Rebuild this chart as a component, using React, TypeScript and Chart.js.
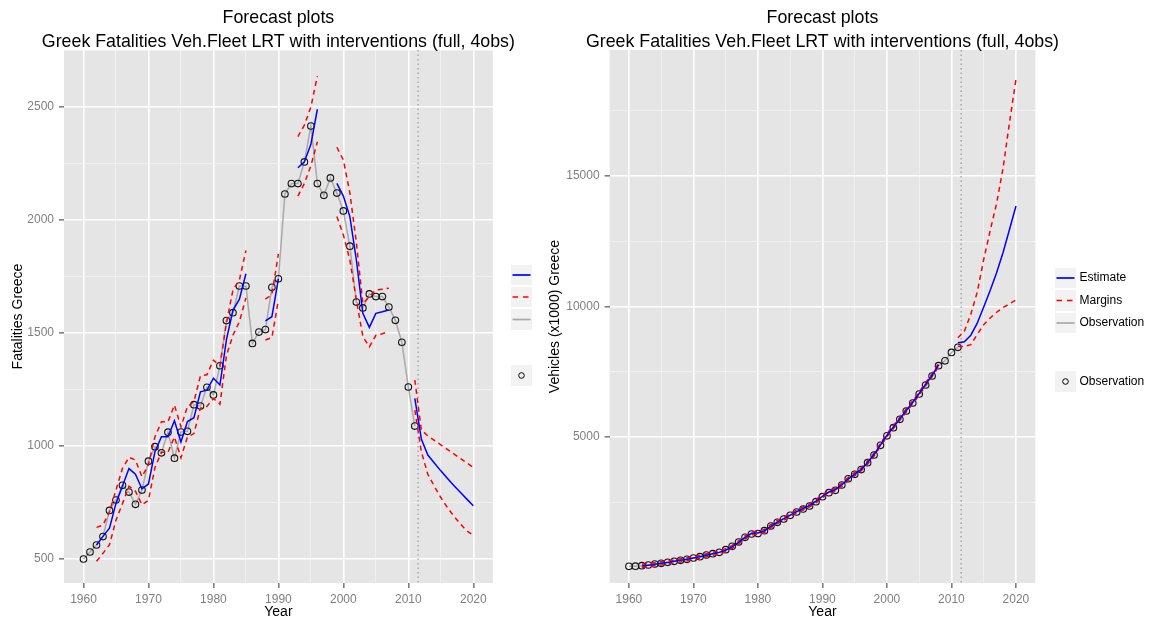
import React, { useEffect, useRef } from "react";
import { Chart, registerables } from "chart.js";

Chart.register(...registerables);

const FONT = '"Liberation Sans", Arial, Helvetica, sans-serif';

const YEARS = [
  1960, 1961, 1962, 1963, 1964, 1965, 1966, 1967, 1968, 1969,
  1970, 1971, 1972, 1973, 1974, 1975, 1976, 1977, 1978, 1979,
  1980, 1981, 1982, 1983, 1984, 1985, 1986, 1987, 1988, 1989,
  1990, 1991, 1992, 1993, 1994, 1995, 1996, 1997, 1998, 1999,
  2000, 2001, 2002, 2003, 2004, 2005, 2006, 2007, 2008, 2009,
  2010, 2011, 2012, 2013, 2014, 2015, 2016, 2017, 2018, 2019, 2020,
];
const OBS_YEARS = YEARS.slice(0, 52);

const X_TICKS = [1960, 1965, 1970, 1975, 1980, 1985, 1990, 1995, 2000, 2005, 2010, 2015, 2020];
const X_MAJOR = [1960, 1970, 1980, 1990, 2000, 2010, 2020];
const INTERVENTION_LINE = 2011.5;

// Left panel: fatalities
const FAT_OBS = [
  500, 531, 562, 599, 715, 761, 826, 796, 742, 805,
  933, 997, 970, 1061, 946, 1062, 1065, 1183, 1177, 1260,
  1226, 1355, 1555, 1590, 1708, 1708, 1454, 1504, 1515, 1702,
  1740, 2115, 2161, 2161, 2257, 2416, 2161, 2109, 2186, 2119,
  2040, 1884, 1637, 1611, 1673, 1661, 1661, 1615, 1556, 1459,
  1261, 1088,
];
const FAT_EST = [
  null, null, 562, 600, 636, 746, 823, 900, 875, 810,
  832, 975, 1041, 1041, 1112, 1018, 1108, 1125, 1240, 1247,
  1300, 1270, 1470, 1600, 1650, 1762, null, null, 1554, 1572,
  1740, null, null, 2231, 2257, 2335, 2490, null, null, 2162,
  2106, 2015, 1823, 1587, 1525, 1587, 1594, 1602, null, null,
  null, 1211, 1031, 960, 925, 890, 857, 825, 795, 765, 736,
];
const FAT_UP = [
  null, null, 640, 650, 709, 805, 901, 950, 938, 864,
  917, 1041, 1107, 1107, 1181, 1085, 1174, 1196, 1310, 1315,
  1380, 1355, 1545, 1690, 1735, 1865, null, null, 1650, 1670,
  1850, null, null, 2369, 2420, 2500, 2637, null, null, 2322,
  2265, 2120, 1900, 1630, 1661, 1690, 1694, 1698, null, null,
  null, 1292, 1071, 1045, 1025, 1005, 985, 965, 945, 925, 905,
];
const FAT_LO = [
  null, null, 490, 525, 563, 672, 745, 822, 800, 740,
  760, 905, 972, 972, 1040, 948, 1040, 1055, 1168, 1175,
  1210, 1185, 1400, 1490, 1550, 1655, null, null, 1469, 1480,
  1646, null, null, 2106, 2162, 2240, 2346, null, null, 2015,
  1934, 1823, 1646, 1484, 1439, 1490, 1497, 1506, null, null,
  null, 1159, 975, 875, 822, 772, 728, 690, 655, 625, 605,
];
const FAT_Y_TICKS = [500, 750, 1000, 1250, 1500, 1750, 2000, 2250, 2500, 2750];
const FAT_Y_MAJOR = [500, 1000, 1500, 2000, 2500];

// Right panel: vehicle fleet
const VEH_OBS = [
  46, 50, 69, 96, 134, 161, 199, 237, 276, 314,
  364, 414, 479, 529, 582, 682, 812, 977, 1157, 1284,
  1300, 1410, 1590, 1732, 1858, 2000, 2126, 2241, 2356, 2522,
  2714, 2867, 2957, 3161, 3400, 3570, 3750, 4015, 4310, 4680,
  5045, 5356, 5678, 5996, 6303, 6648, 6992, 7337, 7732, 7920,
  8240, 8437,
];
const VEH_EST = [
  null, null, 60, 90, 125, 160, 195, 235, 275, 315,
  360, 410, 470, 525, 580, 660, 790, 960, 1150, 1310,
  1330, 1400, 1580, 1740, 1870, 2010, 2140, 2260, 2380, 2540,
  2730, 2900, 2990, 3170, 3390, 3580, 3760, 4020, 4330, 4700,
  5070, 5380, 5700, 6020, 6330, 6670, 7020, 7370, 7760, null,
  null, 8610, 8650, 8900, 9360, 9980, 10610, 11290, 12070, 12950, 13850,
];
const VEH_UP = [
  null, null, 120, 150, 185, 220, 255, 295, 335, 375,
  420, 470, 530, 585, 640, 720, 850, 1020, 1210, 1370,
  1390, 1460, 1640, 1800, 1930, 2070, 2200, 2320, 2440, 2600,
  2790, 2960, 3050, 3230, 3450, 3640, 3820, 4080, 4390, 4760,
  5130, 5440, 5760, 6080, 6390, 6730, 7080, 7430, 7820, null,
  null, 8800, 9050, 9700, 10550, 11800, 12900, 13950, 15300, 17050, 18700,
];
const VEH_LO = [
  null, null, 0, 30, 65, 100, 135, 175, 215, 255,
  300, 350, 410, 465, 520, 600, 730, 900, 1090, 1250,
  1270, 1340, 1520, 1680, 1810, 1950, 2080, 2200, 2320, 2480,
  2670, 2840, 2930, 3110, 3330, 3520, 3700, 3960, 4270, 4640,
  5010, 5320, 5640, 5960, 6270, 6610, 6960, 7310, 7700, null,
  null, 8480, 8470, 8540, 8930, 9300, 9560, 9780, 9960, 10100, 10250,
];
const VEH_Y_TICKS = [2500, 5000, 7500, 10000, 12500, 15000, 17500];
const VEH_Y_MAJOR = [5000, 10000, 15000];

const TITLE_1 = "Forecast plots";
const TITLE_2 = "Greek Fatalities Veh.Fleet LRT with interventions (full, 4obs)";
const X_TITLE = "Year";
const LEFT_Y_TITLE = "Fatalities Greece";
const RIGHT_Y_TITLE = "Vehicles (x1000) Greece";
const LEFT_LEGEND = ["", "", "", ""];
const RIGHT_LEGEND = ["Estimate", "Margins", "Observation", "Observation"];

const BLUE = "#0000ff";
const RED = "#ff0000";
const GREY_LINE = "#a9a9a9";
const DASH = [5, 4];

type PanelCfg = {
  width: number;
  yMin: number;
  yMax: number;
  yTicks: number[];
  yMajor: number[];
  yAxisWidth: number;
  rightPad: number;
  obs: number[];
  est: (number | null)[];
  up: (number | null)[];
  lo: (number | null)[];
  yTitle: string;
  yTitleX: number;
  legend: string[];
  legendX: number;
  legendRows: number[][];
};

const pts = (xs: number[], ys: (number | null)[]) => xs.map((x, i) => ({ x, y: ys[i] }));

function makeChart(canvas: HTMLCanvasElement, cfg: PanelCfg) {
  const decorations = {
    id: "ggDecor",
    beforeDraw(chart: any) {
      const { ctx, chartArea: a } = chart;
      ctx.save();
      ctx.fillStyle = "#e5e5e5";
      ctx.fillRect(a.left, a.top, a.right - a.left, a.bottom - a.top);
      ctx.restore();
    },
    beforeDatasetsDraw(chart: any) {
      const { ctx, chartArea: a } = chart;
      const x = chart.scales.x.getPixelForValue(INTERVENTION_LINE);
      ctx.save();
      ctx.strokeStyle = "#9a9a9a";
      ctx.lineWidth = 1.2;
      ctx.setLineDash([1.5, 3]);
      ctx.beginPath();
      ctx.moveTo(x, a.top);
      ctx.lineTo(x, a.bottom);
      ctx.stroke();
      ctx.restore();
    },
    afterDraw(chart: any) {
      const { ctx, chartArea: a } = chart;
      const cx = (a.left + a.right) / 2;
      ctx.save();
      ctx.fillStyle = "#000";
      ctx.textAlign = "center";
      ctx.textBaseline = "middle";
      ctx.font = `17.8px ${FONT}`;
      ctx.fillText(TITLE_1, cx, 18.5);
      ctx.fillText(TITLE_2, cx, 42.5);
      ctx.font = `14px ${FONT}`;
      ctx.fillText(X_TITLE, cx, 612.5);
      ctx.save();
      ctx.translate(cfg.yTitleX, (a.top + a.bottom) / 2);
      ctx.rotate(-Math.PI / 2);
      ctx.fillText(cfg.yTitle, 0, 0);
      ctx.restore();

      // legend
      const bx = cfg.legendX;
      const bw = 21;
      const keys = [
        { color: BLUE, dash: [] as number[] },
        { color: RED, dash: [5.5, 5] },
        { color: GREY_LINE, dash: [] as number[] },
      ];
      cfg.legendRows.forEach((r, i) => {
        ctx.fillStyle = "#f2f2f2";
        ctx.fillRect(bx, r[0], bw, r[1] - r[0]);
        const my = (r[0] + r[1]) / 2;
        if (i < 3) {
          ctx.strokeStyle = keys[i].color;
          ctx.lineWidth = 1.7;
          ctx.setLineDash(keys[i].dash);
          ctx.beginPath();
          ctx.moveTo(bx + 1.5, my);
          ctx.lineTo(bx + bw - 1.5, my);
          ctx.stroke();
          ctx.setLineDash([]);
        } else {
          ctx.strokeStyle = "#000";
          ctx.lineWidth = 1;
          ctx.beginPath();
          ctx.arc(bx + bw / 2, my, 2.8, 0, Math.PI * 2);
          ctx.stroke();
        }
        const label = cfg.legend[i];
        if (label) {
          ctx.fillStyle = "#000";
          ctx.textAlign = "left";
          ctx.textBaseline = "middle";
          ctx.font = `12px ${FONT}`;
          ctx.fillText(label, bx + bw + 3.5, my);
        }
      });
      ctx.restore();
    },
  };

  const gridOpts = (major: number[]) => ({
    color: (c: any) => (c.tick && major.includes(c.tick.value) ? "#ffffff" : "#f2f2f2"),
    lineWidth: (c: any) => (c.tick && major.includes(c.tick.value) ? 1.6 : 0.8),
    tickColor: (c: any) => (c.tick && major.includes(c.tick.value) ? "#7f7f7f" : "rgba(0,0,0,0)"),
    tickLength: 5,
    drawOnChartArea: true,
    drawTicks: true,
  });

  return new Chart(canvas, {
    type: "line",
    data: {
      datasets: [
        {
          label: "Estimate",
          data: pts(YEARS, cfg.est),
          borderColor: BLUE,
          borderWidth: 1.5,
          pointRadius: 0,
          spanGaps: false,
          tension: 0,
          order: 0,
        },
        {
          label: "Upper",
          data: pts(YEARS, cfg.up),
          borderColor: RED,
          borderWidth: 1.5,
          borderDash: DASH,
          pointRadius: 0,
          spanGaps: false,
          tension: 0,
          order: 1,
        },
        {
          label: "Lower",
          data: pts(YEARS, cfg.lo),
          borderColor: RED,
          borderWidth: 1.5,
          borderDash: DASH,
          pointRadius: 0,
          spanGaps: false,
          tension: 0,
          order: 2,
        },
        {
          label: "Observation points",
          data: pts(OBS_YEARS, cfg.obs),
          showLine: false,
          pointRadius: 3.3,
          pointBorderWidth: 1.1,
          pointBorderColor: "#111",
          pointBackgroundColor: "rgba(0,0,0,0)",
          order: 3,
        },
        {
          label: "Observation",
          data: pts(OBS_YEARS, cfg.obs),
          borderColor: GREY_LINE,
          borderWidth: 1.5,
          pointRadius: 0,
          tension: 0,
          order: 4,
        },
      ],
    },
    options: {
      animation: false,
      responsive: false,
      maintainAspectRatio: false,
      devicePixelRatio: 1,
      layout: { padding: { top: 50, right: cfg.rightPad, left: 0, bottom: 0 } },
      plugins: {
        legend: { display: false },
        title: { display: false },
        tooltip: { enabled: false },
      },
      scales: {
        x: {
          type: "linear",
          min: 1957,
          max: 2023,
          afterBuildTicks: (s: any) => {
            s.ticks = X_TICKS.map((v) => ({ value: v }));
          },
          afterFit: (s: any) => {
            s.height = 44;
          },
          ticks: {
            autoSkip: false,
            maxRotation: 0,
            padding: 4,
            color: "#7f7f7f",
            font: { family: FONT, size: 12 },
            callback: (v: any) => (X_MAJOR.includes(Number(v)) ? String(v) : ""),
          },
          grid: gridOpts(X_MAJOR),
          border: { display: false },
        },
        y: {
          type: "linear",
          min: cfg.yMin,
          max: cfg.yMax,
          afterBuildTicks: (s: any) => {
            s.ticks = cfg.yTicks.map((v) => ({ value: v }));
          },
          afterFit: (s: any) => {
            s.width = cfg.yAxisWidth;
          },
          ticks: {
            autoSkip: false,
            padding: 5,
            color: "#7f7f7f",
            font: { family: FONT, size: 12 },
            callback: (v: any) => (cfg.yMajor.includes(Number(v)) ? String(v) : ""),
          },
          grid: gridOpts(cfg.yMajor),
          border: { display: false },
        },
      },
    },
    plugins: [decorations],
  } as any);
}

const LEFT_CFG: PanelCfg = {
  width: 540,
  yMin: 393.8,
  yMax: 2752.2,
  yTicks: FAT_Y_TICKS,
  yMajor: FAT_Y_MAJOR,
  yAxisWidth: 64,
  rightPad: 47.2,
  obs: FAT_OBS,
  est: FAT_EST,
  up: FAT_UP,
  lo: FAT_LO,
  yTitle: LEFT_Y_TITLE,
  yTitleX: 18,
  legend: LEFT_LEGEND,
  legendX: 511,
  legendRows: [
    [265, 285],
    [287, 307],
    [309, 330],
    [365, 386],
  ],
};

const RIGHT_CFG: PanelCfg = {
  width: 620,
  yMin: -594,
  yMax: 19828,
  yTicks: VEH_Y_TICKS,
  yMajor: VEH_Y_MAJOR,
  yAxisWidth: 69.6,
  rightPad: 124.7,
  obs: VEH_OBS,
  est: VEH_EST,
  up: VEH_UP,
  lo: VEH_LO,
  yTitle: RIGHT_Y_TITLE,
  yTitleX: 15,
  legend: RIGHT_LEGEND,
  legendX: 515,
  legendRows: [
    [268, 288],
    [290, 311],
    [313, 333],
    [371, 392],
  ],
};

function Panel({ cfg, left }: { cfg: PanelCfg; left: number }) {
  const ref = useRef<HTMLCanvasElement | null>(null);
  useEffect(() => {
    if (!ref.current) return;
    const chart = makeChart(ref.current, cfg);
    return () => chart.destroy();
  }, [cfg]);
  return (
    <canvas
      ref={ref}
      width={cfg.width}
      height={627}
      style={{ position: "absolute", left, top: 0, width: cfg.width, height: 627 }}
    />
  );
}

export default function App() {
  return (
    <div style={{ position: "absolute", left: 0, top: 0, width: 1160, height: 627, background: "#fff" }}>
      <Panel cfg={LEFT_CFG} left={0} />
      <Panel cfg={RIGHT_CFG} left={540} />
    </div>
  );
}
